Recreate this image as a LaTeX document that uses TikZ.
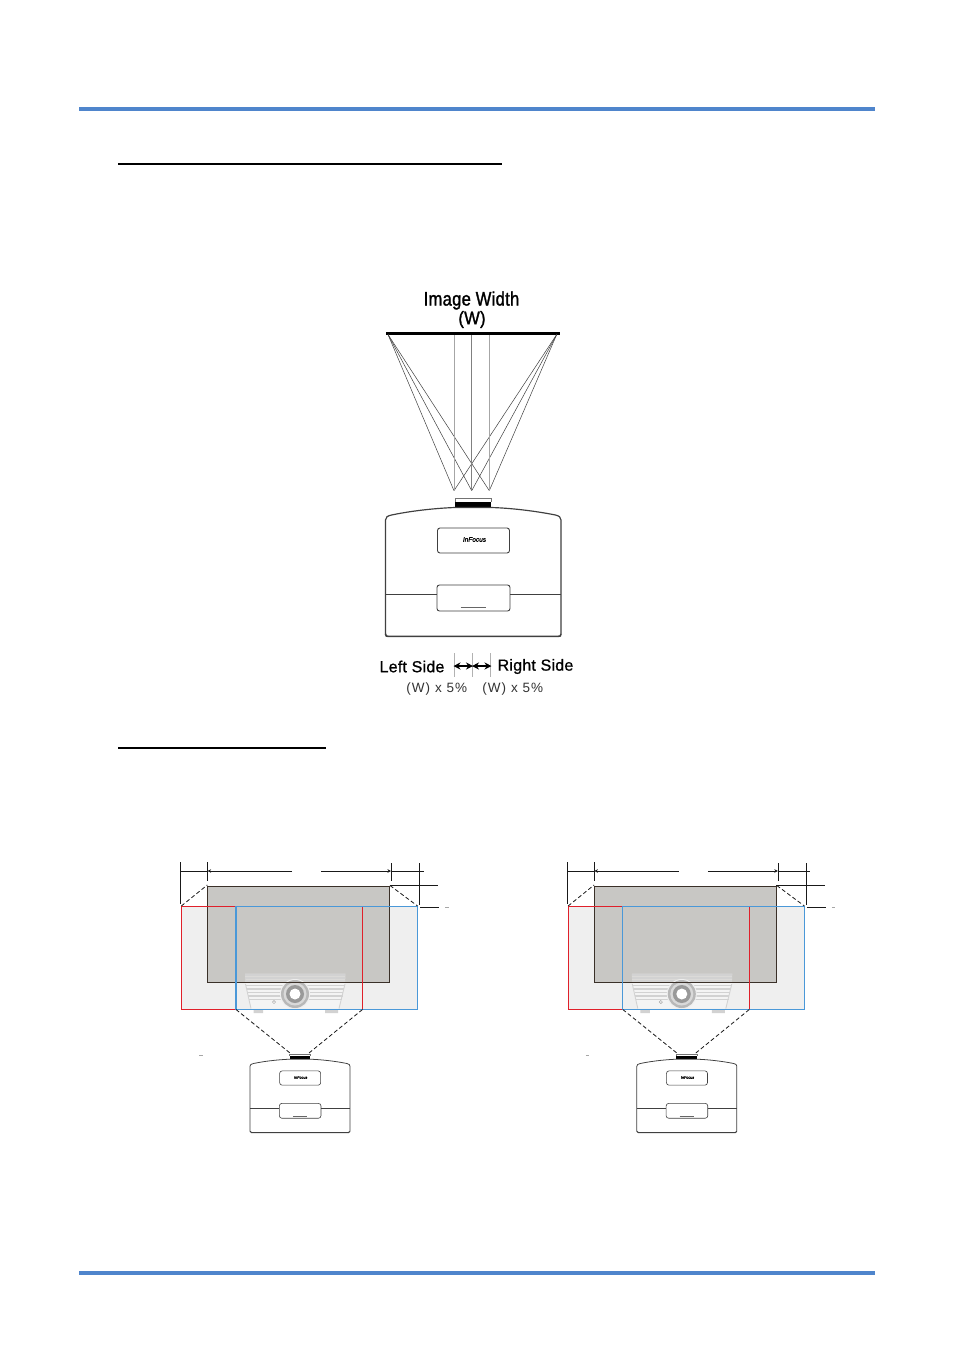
\documentclass[tikz,border=0pt]{standalone}
\usepackage{fontspec}
\setmainfont{Liberation Sans}
\newfontfamily\fbold[FakeBold=1.6,LetterSpace=2]{Liberation Sans}
\newfontfamily\fsoft[FakeBold=0.8,LetterSpace=1.5]{Liberation Sans}
\newfontfamily\fspaced[LetterSpace=8]{Liberation Sans}
\newfontfamily\flogo[FakeBold=1.5]{Liberation Sans}
\usetikzlibrary{arrows.meta}
\definecolor{barblue}{HTML}{4F85CC}
\definecolor{screen}{HTML}{C8C7C4}
\definecolor{pale}{HTML}{EFEFEF}
\definecolor{rimdark}{HTML}{3A3028}
\definecolor{redline}{HTML}{E0202A}
\definecolor{blueline}{HTML}{4A98D8}
\definecolor{ghost}{HTML}{D2D2D2}
\tikzset{
  topbar/.style={barblue,line width=4pt},
  headrule/.style={black,line width=2pt},
  dimline/.style={black!90,line width=1pt},
  rayline/.style={black!75,line width=0.5pt},
  rayvert/.style={black!35,line width=0.8pt},
  dashray/.style={black!90,line width=0.8pt,dash pattern=on 4pt off 2.5pt},
  tick/.style={black!30,line width=0.7pt},
  bodyline/.style={black!75,line width=#1},
  dimarrow/.style={-{Stealth[length=3.5pt,width=3.5pt]},black!90,line width=1pt},
  sidearrow/.style={{Stealth[length=7pt,width=7pt]}-{Stealth[length=7pt,width=7pt]},black,line width=1.2pt},
  label/.style={inner sep=0pt,font=#1},
}
% projector rear view: #1 x of left edge, #2 y of lens top, #3 scale, #4 line width
\newcommand{\projector}[4]{%
\begin{scope}[shift={(#1,#2)},scale=#3]
  \fill[black] (69.5,3.5) rectangle (105.5,9.5);
  \draw[black!55,line width=#4*.8] (69.5,3.5) -- (69.5,.8) -- (105.5,.8) -- (105.5,3.5);
  \draw[bodyline=#4,line width=#4*1.3] (0,136) -- (0,22) .. controls (0,19) and (2,18) .. (6,17) .. controls (30,12) and (55,10) .. (69.5,9.5)
     -- (105.5,9.5) .. controls (125,10) and (150,13) .. (170,17) .. controls (173.5,18) and (175.5,19) .. (175.5,22) -- (175.5,136);
  \draw[bodyline=#4,line width=#4*1.8] (0,136) .. controls (0,138) and (1,138.4) .. (3,138.4) -- (172.5,138.4) .. controls (174.5,138.4) and (175.5,138) .. (175.5,136);
  \draw[bodyline=#4] (0,96) -- (51.5,96) (124.5,96) -- (175.5,96);
  \draw[bodyline=#4,rounded corners=2.5pt] (52,30) rectangle (124,55);
  \draw[bodyline=#4,rounded corners=2.5pt] (51.5,87) rectangle (124.5,113);
  \draw[black!60,line width=#4*1.1] (75,109.5) -- (100,109.5);
  \node[inner sep=0pt,transform shape,font=\flogo\itshape\fontsize{6.5}{7}\selectfont] at (89,41.5) {InFocus};
\end{scope}}
% one projection panel: #1 x offset
\newcommand{\panel}[1]{%
\begin{scope}[shift={(#1,0)}]
  \fill[pale] (181.3,906.5) rectangle (417.6,1009.5);
  \fill[screen] (207.3,886.5) rectangle (389.5,982.3);
  % ghost front view
  \fill[white,opacity=0.35] (245,973.5) -- (345.5,973.5) -- (345,984) -- (339,1008.5) -- (251,1008.5) -- (245.5,984) -- cycle;
  \foreach \yy/\xa/\xb in {975/245/345,978/245/345,981/245/345,985.5/246/345,989/247/344,992.5/248/343,996/248/342.5,999.5/249/342}
    \draw[ghost,line width=1.5pt] (\xa,\yy) -- (\xb,\yy);
  \draw[ghost,line width=0.9pt] (251,1008.5) -- (245.5,984) (339,1008.5) -- (345,984);
  \fill[ghost] (253.5,1010) rectangle (263,1013) (325,1010) rectangle (338,1013);
  \fill[pale] (295,994) circle (15);
  \fill[black!28] (295,994) circle (14);
  \fill[black!15] (295,994) circle (11.5);
  \fill[black!40] (295,994) circle (9);
  \fill[white] (295,994) circle (5.5);
  \draw[black!35,line width=0.5pt] (274,1002) circle (1.6);
  % screen outline
  \draw[rimdark,line width=1.1pt] (207.3,886.5) rectangle (389.5,982.3);
  % light paths
  \draw[redline,line width=1.2pt] (236,906.5) -- (181.3,906.5) -- (181.3,1009.5) -- (236,1009.5);
  \draw[redline,line width=1.2pt] (362.5,906.5) -- (362.5,1009.5);
  \draw[blueline,line width=1.2pt] (362.5,906.5) -- (417.6,906.5) -- (417.6,1009.5) -- (236,1009.5) -- (236,906.5) -- (362.5,906.5);
  % dashed rays
  \draw[dashray] (181.3,906) -- (207.3,885);
  \draw[dashray] (390,885.5) -- (417.6,906);
  \draw[dashray] (236,1009.5) -- (290,1053);
  \draw[dashray] (362.5,1009.5) -- (309,1053);
  % dimensions
  \draw[dimline] (180.5,862) -- (180.5,904);
  \draw[dimline] (207.3,862) -- (207.3,881);
  \draw[dimline] (391.3,863) -- (391.3,881);
  \draw[dimline] (419.3,863) -- (419.3,905);
  \draw[dimline] (180.5,871) -- (207.3,871);
  \draw[dimarrow] (292,871) -- (207.6,871);
  \draw[dimarrow] (321,871) -- (391,871);
  \draw[dimline] (391.3,871) -- (423.6,871);
  \draw[dimline] (389.5,885.3) -- (438,885.3);
  \draw[dimline] (420,907.3) -- (439,907.3);
  \draw[black!35,line width=0.6pt] (445,907.6) -- (448.5,907.6);
  \draw[black!35,line width=0.6pt] (199,1055.2) -- (202.5,1055.2);
\end{scope}
\projector{#1+250}{1053.8}{0.57}{0.6pt}}
\begin{document}
\begin{tikzpicture}[x=1pt,y=-1pt]
\useasboundingbox (0,0) rectangle (954,1350);
\fill[white] (0,0) rectangle (954,1350);
\coordinate (barTL) at (79,108.5); \coordinate (barTR) at (875,108.5);
\coordinate (barBL) at (79,1272.8); \coordinate (barBR) at (875,1272.8);
\draw[topbar] (barTL) -- (barTR);
\draw[topbar] (barBL) -- (barBR);
\draw[headrule] (118,163.8) -- (502,163.8);
\draw[headrule] (118,748) -- (326,748);
% top figure
\node[label=\fbold\fontsize{16.5}{18}\selectfont] (imgw) at (471.5,300.5) {\scalebox{1}[1.18]{Image Width}};
\node[label=\fbold\fontsize{16.5}{18}\selectfont] (wlab) at (472,319.5) {\scalebox{1}[1.1]{(W)}};
\draw[black,line width=3pt] (386,333.3) coordinate (barl) -- (560,333.3) coordinate (barr);
\coordinate (tl) at (388,334.5); \coordinate (tr) at (556.7,334.5);
\coordinate (p1) at (454,490.7); \coordinate (p2) at (471.7,490.7); \coordinate (p3) at (489.3,490.7);
\foreach \p in {p1,p2,p3} \draw[rayline] (tl) -- (\p) (tr) -- (\p);
\draw[rayvert] (454,335) -- (p1);
\draw[rayvert,black!50] (471.7,335) -- (p2);
\draw[rayvert] (489.3,335) -- (p3);
\projector{385.5}{498}{1}{0.9pt}
\node[label=\fsoft\fontsize{16}{18}\selectfont] (ls) at (412,666.5) {Left Side};
\node[label=\fsoft\fontsize{16}{18}\selectfont] (rs) at (535.5,666.5) {Right Side};
\node[label=\fspaced\fontsize{13.5}{15}\selectfont,text=black!80] (wl) at (436.8,688.7) {(W) x 5\%};
\node[label=\fspaced\fontsize{13.5}{15}\selectfont,text=black!80] (wr) at (512.8,688.7) {(W) x 5\%};
\draw[tick] (454.7,653) -- (454.7,677);
\draw[tick] (472.7,653) -- (472.7,677);
\draw[tick] (490.3,653) -- (490.3,677);
\draw[sidearrow] (453.5,666) -- (473,666);
\draw[sidearrow] (472,666) -- (491.5,666);
% lower figures
\panel{0}
\panel{386.8}
\end{tikzpicture}
\end{document}
